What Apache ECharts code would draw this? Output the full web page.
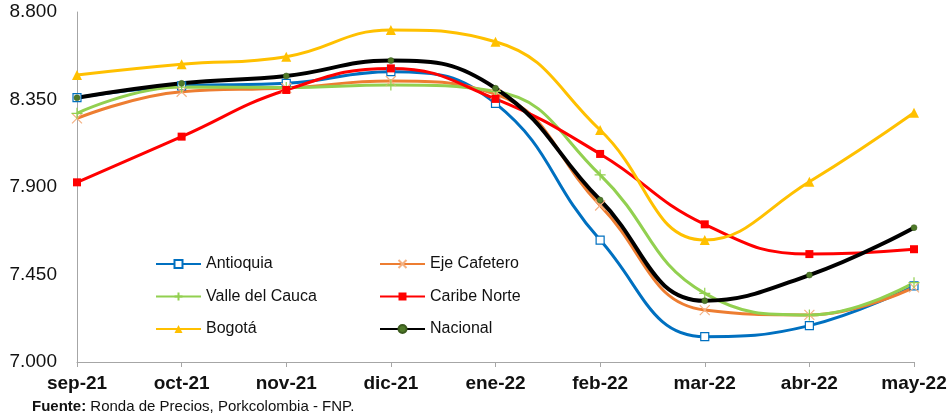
<!DOCTYPE html>
<html>
<head>
<meta charset="utf-8">
<script src="https://cdn.jsdelivr.net/npm/echarts@6/dist/echarts.min.js"></script>
<style>
html,body{margin:0;padding:0;background:#fff;}
#chart{width:951px;height:418px;}
</style>
</head>
<body>
<div id="chart"></div>
<script>
const categories = ['sep-21','oct-21','nov-21','dic-21','ene-22','feb-22','mar-22','abr-22','may-22'];
const antioquia   = [8360, 8420, 8433, 8493, 8330, 7627, 7130, 7187, 7391];
const ejeCafetero = [8253, 8390, 8409, 8445, 8378, 7805, 7267, 7242, 7384];
const valleCauca  = [8279, 8414, 8412, 8425, 8392, 7962, 7353, 7242, 7408];
const caribeNorte = [7924, 8159, 8399, 8510, 8353, 8070, 7708, 7555, 7580];
const bogota      = [8476, 8531, 8570, 8707, 8647, 8193, 7627, 7927, 8282];
const nacional    = [8359, 8433, 8471, 8550, 8408, 7833, 7315, 7447, 7691];
const yTicks = [7000, 7450, 7900, 8350, 8800];

const font = 'Liberation Sans, Arial, sans-serif';
const chart = echarts.init(document.getElementById('chart'));

function mk(name, data, color, width, symbol, size, itemStyle) {
  return {
    name, type: 'line', data, smooth: 0.45,
    symbol, symbolSize: size,
    lineStyle: {color, width},
    itemStyle,
    emphasis: {disabled: true},
    z: 2
  };
}

chart.setOption({
  animation: false,
  backgroundColor: '#fff',
  grid: {left: 77, right: 37, top: 12, bottom: 56, containLabel: false},
  xAxis: {
    type: 'category', data: categories, boundaryGap: false,
    axisLine: {lineStyle: {color: '#a6a6a6', width: 1}},
    axisTick: {show: true, alignWithLabel: true, length: 5, lineStyle: {color: '#a6a6a6'}},
    axisLabel: {fontFamily: font, fontSize: 19, fontWeight: 'bold', color: '#111', margin: 12, interval: 0},
    splitLine: {show: false}
  },
  yAxis: {
    type: 'value', min: yTicks[0], max: yTicks[yTicks.length-1], interval: yTicks[1]-yTicks[0],
    axisLine: {show: true, lineStyle: {color: '#a6a6a6', width: 1}},
    axisTick: {show: false},
    splitLine: {show: false},
    axisLabel: {fontFamily: font, fontSize: 19, color: '#111', margin: 20,
      formatter: v => (v/1000).toFixed(3)}
  },
  legend: [
    {data: ['Antioquia','Valle del Cauca','Bogotá'], orient: 'vertical', left: 150, top: 251,
     itemWidth: 45, itemHeight: 10, itemGap: 16.5,
     textStyle: {fontFamily: font, fontSize: 16, color: '#111'}},
    {data: ['Eje Cafetero','Caribe Norte','Nacional'], orient: 'vertical', left: 374, top: 251,
     itemWidth: 45, itemHeight: 10, itemGap: 16.5,
     textStyle: {fontFamily: font, fontSize: 16, color: '#111'}}
  ],
  graphic: [{
    type: 'text', left: 32, top: 399,
    style: {
      text: '{b|Fuente:} Ronda de Precios, Porkcolombia - FNP.',
      fontFamily: font, fontSize: 15, fill: '#111',
      rich: {b: {fontFamily: font, fontSize: 15, fontWeight: 'bold', fill: '#111'}}
    }
  }],
  series: [
    mk('Antioquia', antioquia, '#0070C0', 3, 'rect', 8, {color: '#fff', borderColor: '#0070C0', borderWidth: 1.2}),
    mk('Eje Cafetero', ejeCafetero, '#ED7D31', 3, 'path://M0,0L10,10M10,0L0,10', 10, {color: 'rgba(0,0,0,0)', borderColor: '#F4B183', borderWidth: 1.2}),
    mk('Valle del Cauca', valleCauca, '#92D050', 3, 'path://M5,0L5,10M0,5L10,5', 11, {color: 'rgba(0,0,0,0)', borderColor: '#92D050', borderWidth: 1.2}),
    mk('Caribe Norte', caribeNorte, '#FF0000', 3, 'rect', 8, {color: '#FF0000', borderColor: '#FF0000', borderWidth: 0}),
    mk('Bogotá', bogota, '#FFC000', 3, 'triangle', 10, {color: '#FFC000', borderColor: '#FFC000', borderWidth: 0}),
    mk('Nacional', nacional, '#000000', 4, 'circle', 6, {color: '#4F7A28', borderColor: '#3B5A1E', borderWidth: 0.5})
  ]
});
</script>
</body>
</html>
